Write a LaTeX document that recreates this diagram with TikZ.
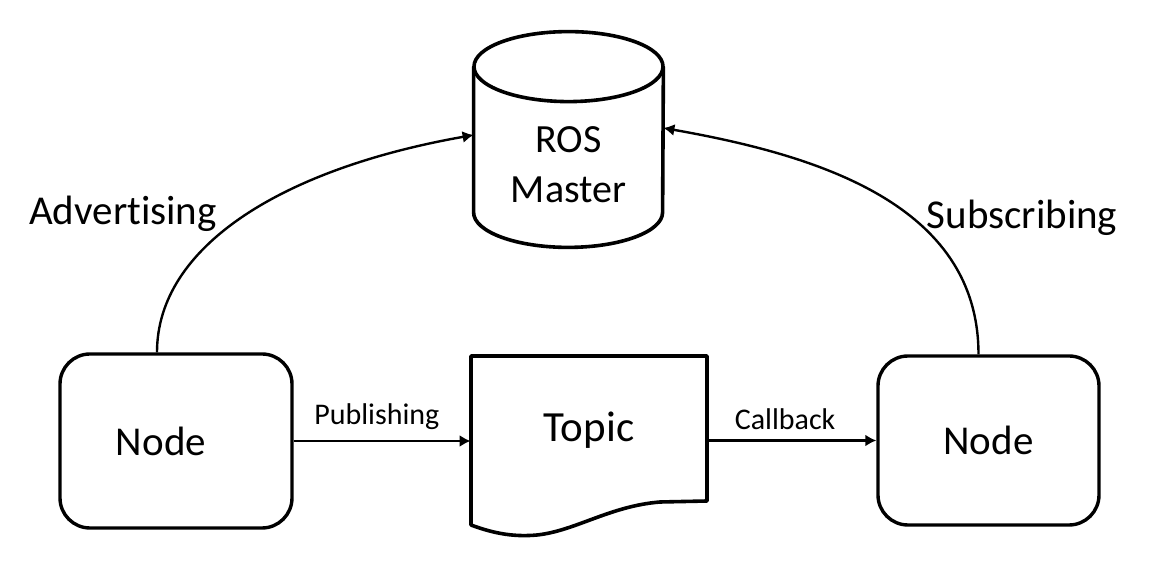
\documentclass[tikz,border=0pt]{standalone}
\usepackage{fontspec}
\setmainfont{Carlito}[Ligatures=NoCommon]
\usetikzlibrary{arrows.meta,positioning}
\tikzset{
  box/.style={draw, line width=1.7pt, rounded corners=15pt, minimum width=116pt, minimum height=87pt, inner sep=0pt, font=\fontsize{20.5}{24}\selectfont},
  shp/.style={draw, line width=1.8pt, line join=round},
  hold/.style={inner sep=0pt},
  link/.style={line width=1.3pt, -{Latex[length=5.5pt,width=6pt]}},
  lbl/.style={font=\fontsize{15}{18}\selectfont, inner sep=1pt},
  side/.style={font=\fontsize{20.5}{24}\selectfont, inner sep=0pt},
}
\begin{document}
\begin{tikzpicture}[x=50pt,y=50pt]
  \useasboundingbox (0,0) rectangle (11.64,5.68);
  % the two nodes
  \node[box] (pub) at (1.76,1.27) {\hspace*{-15pt}Node};
  \node[box, minimum width=110.5pt, minimum height=84.5pt] (sub) at (9.885,1.275) {Node};
  % master (cylinder)
  \node[hold, minimum width=94.5pt, minimum height=107.5pt] (mstr) at (5.685,4.285) {};
  \draw[shp] ([yshift=-17.5pt]mstr.north) ellipse [x radius=47.25pt, y radius=17.5pt];
  \draw[shp] ([yshift=-17.5pt]mstr.north west) -- ([yshift=17.5pt]mstr.south west)
    arc[start angle=180, end angle=360, x radius=47.25pt, y radius=17.5pt]
    -- ([yshift=-17.5pt]mstr.north east);
  \node[align=center, font=\fontsize{20}{25}\selectfont] (mtxt) at ([yshift=-12.75pt]mstr.center) {ROS\\Master};
  % topic (document shape)
  \node[hold, minimum width=118pt, minimum height=74pt, font=\fontsize{21.5}{24}\selectfont] (tpc) at (5.89,1.38) {Topic};
  \draw[shp] (7.07,0.67) -- (7.07,2.12) -- (4.71,2.12) -- (4.71,0.43)
    .. controls (4.95,0.34) and (5.15,0.31) .. (5.37,0.33)
    .. controls (5.75,0.37) and (6.1,0.62) .. (6.6,0.66) -- cycle;
  % connectors
  \draw[link] (pub.east) -- (pub.east -| tpc.west) node[lbl, above=4pt, pos=0.47] (publbl) {Publishing};
  \draw[link] (tpc.east |- sub.west) -- (sub.west) node[lbl, above=3.5pt, pos=0.46] (cblbl) {Callback};
  \draw[link, line width=1.2pt] ([xshift=-9.5pt]pub.north) to[out=90, in=190, out looseness=0.7, in looseness=1.3] ([yshift=2.25pt]mstr.west);
  \draw[link, line width=1.2pt] ([xshift=-5pt]sub.north) to[out=90, in=-10] ([yshift=5.75pt]mstr.east);
  \node[side] (adv) at (1.23,3.54) {Advertising};
  \node[side] (subs) at (10.22,3.50) {Subscribing};
\end{tikzpicture}
\end{document}
